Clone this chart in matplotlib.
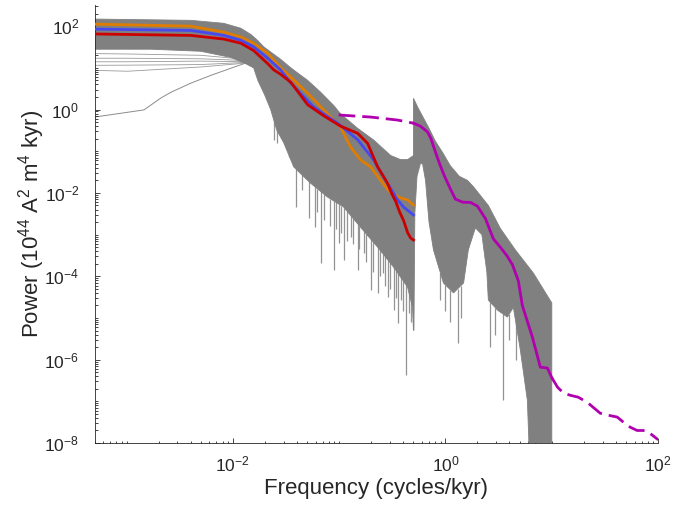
import numpy as np
import matplotlib
matplotlib.use("Agg")
import matplotlib.pyplot as plt
from matplotlib.ticker import FixedLocator, LogLocator, LogFormatterSciNotation, NullFormatter

plt.rcParams['font.family'] = 'Liberation Sans'
plt.rcParams['mathtext.fontset'] = 'custom'
plt.rcParams['mathtext.rm'] = 'Liberation Sans'
plt.rcParams['mathtext.default'] = 'regular'

# --- ensemble envelope, low-frequency record (0.0005 - 0.5 cycles/kyr) ---
lowband_top_f = [5.0e-4, 4.03e-3, 8.23e-3, 1.19e-2, 1.48e-2, 1.72e-2, 1.95e-2, 2.27e-2,
                 2.82e-2, 3.51e-2, 4.08e-2, 5.06e-2, 6.70e-2, 8.87e-2, 0.103, 0.149,
                 0.211, 0.305, 0.378, 0.44, 0.49, 0.50]
lowband_top_P = [148, 138, 117, 89, 63, 45, 32, 24, 16, 10, 7.5, 5.0, 2.6, 1.26, 0.79,
                 0.355, 0.186, 0.079, 0.063, 0.063, 0.076, 0.079]
lowband_bot_f = [5.0e-4, 1.7e-3, 5.0e-3, 9.58e-3, 1.32e-2, 1.57e-2, 1.72e-2, 2.0e-2,
                 2.27e-2, 2.59e-2, 3.01e-2, 3.74e-2, 5.40e-2, 7.80e-2, 0.110, 0.159,
                 0.230, 0.325, 0.44, 0.49, 0.50]
lowband_bot_P = [28, 28, 25, 17.8, 12.6, 10, 5.0, 2.2, 1.0, 0.32, 0.16, 0.042, 0.017,
                 7.9e-3, 4.6e-3, 1.5e-3, 5.0e-4, 1.66e-4, 5.5e-5, 1.8e-5, 5.0e-6]
lowband_dip_f = [2.43e-2, 2.59e-2, 3.36e-2, 3.91e-2, 4.5e-2, 5.17e-2, 5.89e-2, 6.2e-2,
                 6.70e-2, 7.2e-2, 8.2e-2, 8.87e-2, 9.3e-2, 9.86e-2, 0.105, 0.112, 0.118,
                 0.128, 0.135, 0.149, 0.155, 0.170, 0.18, 0.198, 0.21, 0.230, 0.24,
                 0.257, 0.27, 0.285, 0.30, 0.325, 0.34, 0.354, 0.378, 0.40, 0.421,
                 0.450, 0.47]
lowband_dip_P = [0.19, 0.155, 0.072, 4.6e-3, 0.012, 2.5e-3, 1.5e-3, 3.5e-3, 2.1e-4,
                 2.2e-3, 1.6e-3, 1.4e-4, 1.4e-3, 6.3e-4, 1.1e-3, 2.5e-4, 7.0e-4, 8.7e-4,
                 6.0e-4, 1.4e-4, 4.5e-4, 3.6e-4, 2.2e-4, 4.7e-5, 1.3e-4, 4.0e-5, 1.0e-4,
                 1.2e-4, 6.0e-5, 3.2e-5, 5.0e-5, 1.55e-5, 3.0e-5, 7.6e-6, 2.7e-5,
                 1.5e-5, 4.3e-7, 1.3e-5, 8.0e-6]

# --- ensemble envelope, high-frequency record (0.5 - 10 cycles/kyr) ---
highband_top_f = [0.50, 0.55, 0.62, 0.70, 0.80, 0.95, 1.11, 1.35, 1.61, 1.83, 2.53, 3.28,
                  4.54, 6.7, 10.0]
highband_top_P = [1.86, 1.12, 0.63, 0.355, 0.178, 0.089, 0.045, 0.025, 0.020, 0.0141,
                  5.0e-3, 1.41e-3, 4.3e-4, 1.2e-4, 2.3e-5]
highband_bot_f = [0.50, 0.505, 0.515, 0.54, 0.58, 0.608, 0.649, 0.70, 0.771, 0.957, 1.19,
                  1.48, 1.64, 1.91, 2.2, 2.45, 2.53, 3.08, 3.82, 4.35, 5.06, 5.89, 6.3,
                  10.0]
highband_bot_P = [5.1e-6, 5.1e-6, 3.2e-3, 0.025, 0.050, 0.051, 0.020, 2.0e-3, 4.3e-4,
                  6.9e-5, 4.0e-5, 6.9e-5, 4.3e-4, 1.45e-3, 1.0e-3, 1.26e-4, 2.7e-5,
                  1.55e-5, 1.05e-5, 1.8e-5, 1.7e-6, 1.07e-7, 1e-9, 1e-9]
highband_dip_f = [0.897, 1.0, 1.11, 1.30, 1.40, 2.6, 2.95, 3.5, 4.0, 4.6]
highband_dip_P = [2.7e-5, 1.5e-5, 7.9e-6, 2.5e-6, 1.0e-5, 2.0e-6, 4.0e-6, 1.07e-7,
                  3.0e-6, 1.0e-6]

# --- a few stray ensemble members at the lowest frequencies ---
stray_f = [5.0e-4, 1.46e-3, 2.11e-3, 2.62e-3, 4.03e-3, 6.21e-3, 9.58e-3, 1.32e-2]
stray_P = [0.66, 0.98, 1.9, 2.6, 4.3, 6.6, 9.8, 13]
faint_f = [5.0e-4, 1.03e-3, 5.0e-3, 1.32e-2]
faint_P = [[8.7, 8.3, 10.5, 13],
           [11.5, 11.6, 12, 13.5],
           [14, 14, 14.5, 14],
           [17, 17, 16.5, 15],
           [22, 21.5, 20, 16]]

# --- summary spectra ---
orange_f = [5.06e-4, 4.03e-3, 8.23e-3, 1.19e-2, 1.57e-2, 2.13e-2, 2.82e-2, 3.51e-2,
            5.06e-2, 7.15e-2, 0.103, 0.128, 0.159, 0.198, 0.245, 0.305, 0.378, 0.44, 0.50]
orange_P = [112, 100, 72, 55, 39, 22.4, 10, 6.0, 2.45, 0.98, 0.38, 0.126, 0.062, 0.042,
            0.020, 0.010, 7.6e-3, 6.8e-3, 5.1e-3]
blue_f = [5.06e-4, 4.03e-3, 8.23e-3, 1.19e-2, 1.57e-2, 2.13e-2, 2.82e-2, 3.51e-2, 5.76e-2,
          9.68e-2, 0.149, 0.211, 0.285, 0.354, 0.403, 0.50]
blue_P = [85, 79, 60, 46, 32, 17, 8.9, 4.3, 1.15, 0.47, 0.19, 0.062, 0.017, 6.8e-3,
          4.6e-3, 2.95e-3]
red_f = [5.06e-4, 4.03e-3, 8.23e-3, 1.19e-2, 1.57e-2, 2.13e-2, 2.43e-2, 2.82e-2, 3.51e-2,
         5.06e-2, 7.15e-2, 0.103, 0.149, 0.185, 0.23, 0.285, 0.31, 0.34, 0.37, 0.403,
         0.44, 0.47, 0.50]
red_P = [65, 60, 49, 39, 26, 12.6, 8.9, 7.0, 4.5, 1.3, 0.71, 0.40, 0.27, 0.155, 0.042,
         0.017, 0.010, 6.3e-3, 3.5e-3, 2.2e-3, 1.12e-3, 8.3e-4, 7.4e-4]
magenta_f = [0.50, 0.58, 0.678, 0.73, 0.80, 0.88, 0.98, 1.11, 1.24, 1.45, 1.72, 2.0, 2.38,
             2.82, 3.28, 3.82, 4.26, 4.84, 5.28, 6.56, 7.8, 9.08, 10.0]
magenta_P = [0.47, 0.40, 0.29, 0.20, 0.10, 0.050, 0.025, 0.0126, 7.1e-3, 6.0e-3, 5.9e-3,
             4.8e-3, 2.4e-3, 7.9e-4, 5.0e-4, 3.0e-4, 1.9e-4, 7.9e-5, 2.0e-5, 3.5e-6,
             6.6e-7, 6.3e-7, 3.7e-7]
magenta_lo_f = [0.099, 0.198, 0.354, 0.50]
magenta_lo_P = [0.74, 0.66, 0.56, 0.47]
magenta_hi_f = [10.0, 11.3, 12.8, 14.9, 17.7, 21.5, 24.5, 28.5, 33.2, 41.2, 46.9, 54.6,
                63.5, 75.5, 84.1, 100.0]
magenta_hi_P = [3.7e-7, 2.2e-7, 1.6e-7, 1.4e-7, 1.26e-7, 9.5e-8, 7.2e-8, 5.2e-8, 4.7e-8,
                4.2e-8, 3.2e-8, 2.4e-8, 2.0e-8, 2.0e-8, 1.7e-8, 1.2e-8]

GRAY = '#808080'


def draw_band(ax, top_f, top_P, bot_f, bot_P, dip_f, dip_P):
    # polygon of the ensemble spread, plus the thin downward dips of single members
    xs = np.concatenate([top_f, bot_f[::-1]])
    ys = np.concatenate([top_P, bot_P[::-1]])
    ax.fill(xs, ys, color=GRAY, lw=0.6, zorder=2)
    base = 10 ** np.interp(np.log10(dip_f), np.log10(bot_f), np.log10(bot_P))
    ax.vlines(dip_f, dip_P, base, color='#939393', lw=0.9, zorder=1)


fig = plt.figure(figsize=(6.75, 5.11), dpi=100)
ax = fig.add_axes([0.14, 0.133, 0.835, 0.857])

draw_band(ax, lowband_top_f, lowband_top_P, lowband_bot_f, lowband_bot_P,
          lowband_dip_f, lowband_dip_P)
draw_band(ax, highband_top_f, highband_top_P, highband_bot_f, highband_bot_P,
          highband_dip_f, highband_dip_P)

ax.plot(stray_f, stray_P, color='#8c8c8c', lw=0.7, zorder=1.5)
for row in faint_P:
    ax.plot(faint_f, row, color='#9a9a9a', lw=0.6, zorder=1.5)

ax.plot(orange_f, orange_P, color='#E07C00', lw=2.0, zorder=4)
ax.plot(blue_f, blue_P, color='#4848F0', lw=2.0, zorder=5)
ax.plot(red_f, red_P, color='#CC0000', lw=2.0, zorder=6)
ax.plot(magenta_f, magenta_P, color='#B000B0', lw=2.0, zorder=6)
ax.plot(magenta_lo_f, magenta_lo_P, color='#B000B0', lw=2.0, zorder=6, dashes=(6, 2.5))
ax.plot(magenta_hi_f, magenta_hi_P, color='#B000B0', lw=2.0, zorder=6, dashes=(6, 2.5))

ax.set_xscale('log')
ax.set_yscale('log')
ax.set_xlim(5e-4, 1e2)
ax.set_ylim(1e-8, 3.2e2)

ax.xaxis.set_major_locator(FixedLocator([1e-2, 1e0, 1e2]))
ax.yaxis.set_major_locator(FixedLocator([1e-8, 1e-6, 1e-4, 1e-2, 1e0, 1e2]))
for axis in (ax.xaxis, ax.yaxis):
    axis.set_major_formatter(LogFormatterSciNotation())
    axis.set_minor_locator(LogLocator(base=10, subs=np.arange(1, 10), numticks=100))
    axis.set_minor_formatter(NullFormatter())

for side in ('top', 'right'):
    ax.spines[side].set_visible(False)
for side in ('left', 'bottom'):
    ax.spines[side].set_color('#262626')
    ax.spines[side].set_linewidth(0.6)

ax.tick_params(which='both', direction='in', color='#262626', width=0.6,
               labelsize=12.5, labelcolor='#262626')
ax.tick_params(which='major', length=3.5)
ax.tick_params(which='minor', length=1.8)
ax.tick_params(axis='y', pad=11)
ax.tick_params(axis='x', pad=8)

ax.set_xlabel('Frequency (cycles/kyr)', fontsize=16, color='#262626', labelpad=3)
ax.set_ylabel('Power (10$^{44}$ A$^{2}$ m$^{4}$ kyr)', fontsize=16, color='#262626',
              labelpad=-2)

fig.savefig('out.png', dpi=100)
